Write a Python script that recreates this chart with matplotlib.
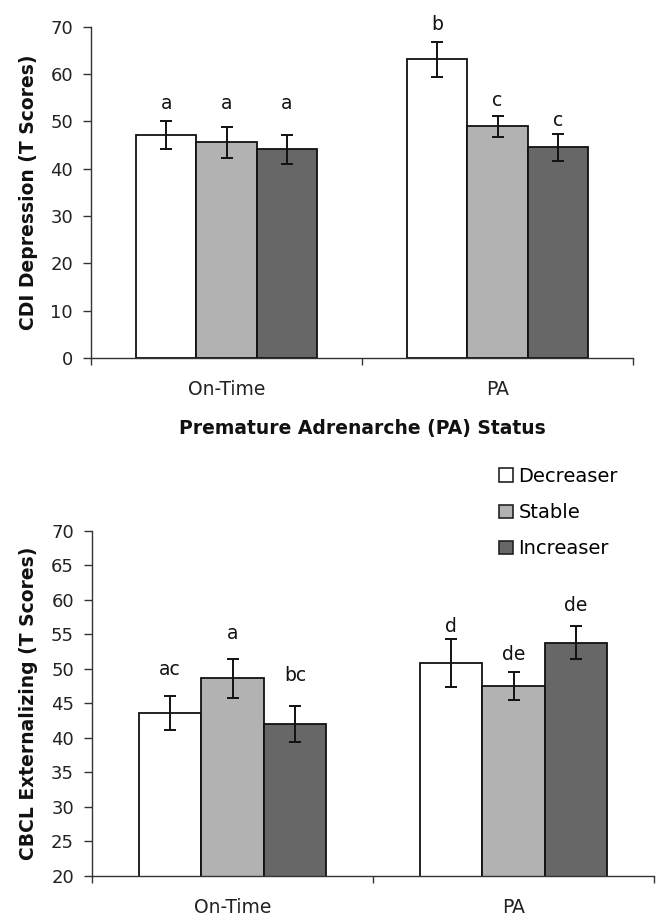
import matplotlib
matplotlib.use('Agg')
import matplotlib.pyplot as plt
from matplotlib.patches import Patch
import numpy as np

# =========================
# DATA
# =========================
groups = ['On-Time', 'PA']
series = ['Decreaser', 'Stable', 'Increaser']
colors = ['#ffffff', '#b2b2b2', '#676767']

# CDI depression (top panel)
cdi_means = [[47.2, 63.1], [45.6, 49.0], [44.1, 44.5]]
cdi_err = [[2.95, 3.75], [3.3, 2.2], [3.05, 2.85]]
cdi_letters = [['a', 'b'], ['a', 'c'], ['a', 'c']]
cdi_letter_y = [[52.6, 69.2], [52.6, 53.2], [52.6, 49.0]]

# CBCL externalizing (bottom panel)
cbcl_means = [[43.6, 50.8], [48.6, 47.5], [42.0, 53.8]]
cbcl_err = [[2.5, 3.45], [2.85, 2.0], [2.65, 2.4]]
cbcl_letters = [['ac', 'd'], ['a', 'de'], ['bc', 'de']]
cbcl_letter_y = [[49.1, 55.4], [54.3, 51.3], [48.3, 58.4]]

FS = 13.5
W, H = 659, 918


def draw_panel(ax, means, errs, letters, letter_y, ylim, ystep, ylabel, xlabel=None):
    x = np.arange(len(groups))
    bw = 0.222
    for i, s in enumerate(series):
        pos = x + (i - 1) * bw
        ax.bar(pos, means[i], width=bw, color=colors[i], edgecolor='#111111',
               linewidth=1.3, label=s, zorder=2)
        ax.errorbar(pos, means[i], yerr=errs[i], fmt='none', ecolor='#111111',
                    elinewidth=1.4, capsize=4, capthick=1.4, zorder=3)
        for j in range(len(groups)):
            ax.text(pos[j], letter_y[i][j], letters[i][j], ha='center',
                    va='baseline', fontsize=FS, color='#111111')

    ax.set_xlim(-0.5, 1.5)
    ax.set_ylim(*ylim)
    ax.set_yticks(np.arange(ylim[0], ylim[1] + 0.1, ystep))
    ax.set_xticks([-0.5, 0.5, 1.5])
    ax.set_xticklabels([])
    ax.set_xticks(x, minor=True)
    ax.set_xticklabels(groups, minor=True)
    ax.tick_params(axis='x', which='major', length=5, width=1, color='#333333', direction='out')
    ax.tick_params(axis='x', which='minor', length=0, pad=16, labelsize=FS, labelcolor='#222222')
    ax.tick_params(axis='y', length=6, width=1, color='#333333', pad=7,
                   labelsize=FS - 0.5, labelcolor='#222222')
    for side in ['top', 'right']:
        ax.spines[side].set_visible(False)
    for side in ['left', 'bottom']:
        ax.spines[side].set_color('#333333')
        ax.spines[side].set_linewidth(1.0)
    ax.set_ylabel(ylabel, fontsize=FS, fontweight='bold', color='#111111')
    if xlabel:
        ax.set_xlabel(xlabel, fontsize=FS, fontweight='bold', color='#111111', labelpad=14)


fig = plt.figure(figsize=(W / 100, H / 100), dpi=100)

ax1 = fig.add_axes([91 / W, 1 - 358 / H, (633 - 91) / W, (358 - 26.7) / H])
draw_panel(ax1, cdi_means, cdi_err, cdi_letters, cdi_letter_y, (0, 70), 10,
           'CDI Depression (T Scores)', 'Premature Adrenarche (PA) Status')
ax1.yaxis.set_label_coords((38 - 91) / (633 - 91), 0.5)

ax2 = fig.add_axes([92 / W, 1 - 876 / H, (654 - 92) / W, (876 - 530.7) / H])
draw_panel(ax2, cbcl_means, cbcl_err, cbcl_letters, cbcl_letter_y, (20, 70), 5,
           'CBCL Externalizing (T Scores)')
ax2.yaxis.set_label_coords((38 - 92) / (654 - 92), 0.5)

handles = [Patch(facecolor=c, edgecolor='#222222', linewidth=1.2) for c in colors]
fig.legend(handles, series, loc='upper left', bbox_to_anchor=(499 / W, 1 - 467 / H),
           frameon=False, fontsize=14, handlelength=0.7, handleheight=0.7,
           handletextpad=0.3, labelspacing=0.88, borderpad=0, borderaxespad=0)

fig.savefig('out.png', dpi=100)
